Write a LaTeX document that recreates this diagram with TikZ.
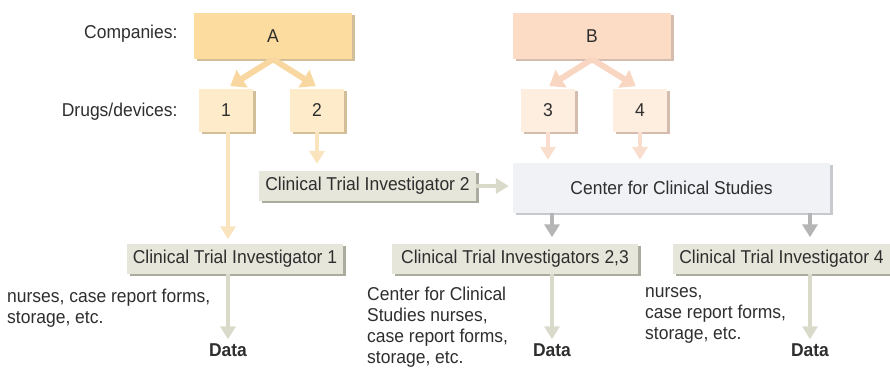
\documentclass[tikz,border=0pt]{standalone}
\usepackage{fontspec}
\setmainfont[FakeStretch=0.94]{Liberation Sans}
\usetikzlibrary{arrows.meta,shadows}
\definecolor{txt}{HTML}{2E2E2E}
\definecolor{coA}{HTML}{FDDCA0}
\definecolor{coB}{HTML}{FCDCC5}
\definecolor{drA}{HTML}{FDEBC9}
\definecolor{drB}{HTML}{FDEEE0}
\definecolor{inv}{HTML}{E6E6DA}
\definecolor{ctr}{HTML}{F0F2F5}
\definecolor{shA}{HTML}{D2BE98}
\definecolor{shB}{HTML}{D4BCAE}
\definecolor{shI}{HTML}{ABAB9E}
\definecolor{shC}{HTML}{C6C9CD}
\definecolor{arA}{HTML}{F8D8A0}
\definecolor{arB}{HTML}{F9D6C1}
\definecolor{arI}{HTML}{DADACB}
\definecolor{arC}{HTML}{B5B5B5}

\begin{document}
\begin{tikzpicture}[x=1pt, y=-1pt, >={Triangle[width=15pt,length=13pt]},
  every node/.style={font=\fontsize{18.6}{21}\selectfont, text=txt},
  box/.style={inner sep=0pt, fill=#1},
  dropsh/.style={drop shadow={shadow xshift=2.5pt, shadow yshift=-2.5pt, opacity=1, fill=#1}},
  company/.style={box=#1, dropsh=shA, minimum width=158pt, minimum height=46pt},
  drug/.style={box=#1, minimum width=54pt, minimum height=43pt},
  invbox/.style={box=inv, dropsh=shI, minimum height=30pt},
  datalbl/.style={font=\fontsize{18.6}{21}\selectfont\bfseries, inner sep=0pt},
  notes/.style={anchor=north west, align=left, inner sep=0pt},
  link/.style={->, line width=4.5pt, draw=#1},
  fork/.style={-{Triangle[width=20pt,length=14pt]}, line width=6pt, draw=#1, shorten >=5pt}]
  \useasboundingbox (0,0) rectangle (890,371);

  % row labels
  \node[anchor=east] (lblcomp) at (181,34) {Companies:};
  \node[anchor=east] (lbldrug) at (181,112) {Drugs/devices:};

  % companies and products
  \node[company=coA] (compA) at (273,36) {A};
  \node[company=coB, dropsh=shB] (compB) at (592,36) {B};
  \node[drug=drA, dropsh=shA] (drug1) at (226,110.5) {1};
  \node[drug=drA, dropsh=shA] (drug2) at (317,110.5) {2};
  \node[drug=drB, dropsh=shB] (drug3) at (548,110.5) {3};
  \node[drug=drB, dropsh=shB] (drug4) at (640,110.5) {4};

  % investigators
  \node[invbox, minimum width=217pt] (inv2) at (367.5,186) {Clinical Trial Investigator 2};
  \node[box=ctr, dropsh=shC, minimum width=317pt, minimum height=50pt] (center) at (671.5,188) {Center for Clinical Studies};
  \node[invbox, minimum width=216pt] (inv1) at (235,258.5) {Clinical Trial Investigator 1};
  \node[invbox, minimum width=246pt] (inv23) at (515,258.5) {Clinical Trial Investigators 2,3};
  \node[invbox, minimum width=217pt] (inv4) at (781.5,258.5) {Clinical Trial Investigator 4};

  % data
  \node[datalbl] (data1) at (228,350) {Data};
  \node[datalbl] (data23) at (552,350) {Data};
  \node[datalbl] (data4) at (810,350) {Data};

  \node[notes] (note1) at (7,289) {nurses, case report forms,\\storage, etc.};
  \node[notes] (note23) at (367,287) {Center for Clinical\\Studies nurses,\\case report forms,\\storage, etc.};
  \node[notes] (note4) at (645,287) {nurses,\\case report forms,\\storage, etc.};

  % connectors
  \draw[fork=arA] (compA.south) -- (drug1.north);
  \draw[fork=arA] (compA.south) -- ([xshift=3pt]drug2.north);
  \draw[fork=arB] (compB.south) -- ([xshift=-3pt]drug3.north);
  \draw[fork=arB] (compB.south) -- (drug4.north);
  \draw[link=arA!70!white] (data1 |- drug1.south) -- ([yshift=4pt]data1 |- inv1.north);
  \draw[link=arA!70!white] (drug2.south) -- ([yshift=7pt]drug2.south |- inv2.north);
  \draw[link=arB!80!white] (drug3.south) -- ([yshift=3pt]drug3.south |- center.north);
  \draw[link=arB!80!white] (drug4.south) -- ([yshift=3pt]drug4.south |- center.north);
  \draw[link=arI, shorten >=4pt] (inv2.east) -- (inv2.east -| center.west);
  \draw[link=arC] (data23 |- center.south) -- ([yshift=6pt]data23 |- inv23.north);
  \draw[link=arC] (data4 |- center.south) -- ([yshift=6pt]data4 |- inv4.north);
  \draw[link=arI] (data1 |- inv1.south) -- ([yshift=4pt]data1.north);
  \draw[link=arI] (data23 |- inv23.south) -- ([yshift=4pt]data23.north);
  \draw[link=arI] (data4 |- inv4.south) -- ([yshift=4pt]data4.north);
\end{tikzpicture}
\end{document}
